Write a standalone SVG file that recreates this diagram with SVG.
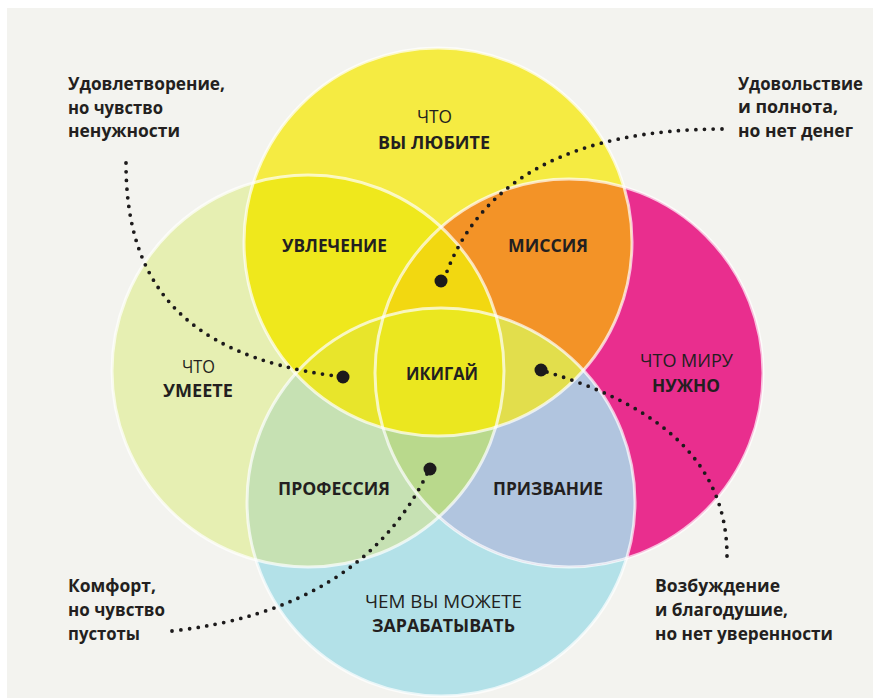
<svg xmlns="http://www.w3.org/2000/svg" width="873" height="698" viewBox="0 0 873 698">
<style>
.t{font-family:"Open Sans","Noto Sans","Liberation Sans",sans-serif;font-size:17.5px;fill:#231f20}
.b{font-weight:700}
.r{font-weight:400}
.note{font-family:"Open Sans","Noto Sans","Liberation Sans",sans-serif;font-size:17px;font-weight:700;fill:#231f20}
.edge{fill:none;stroke:#ffffff;stroke-opacity:0.7;stroke-width:3}
.dotline{fill:none;stroke:#1c1a1b;stroke-width:3.8;stroke-linecap:round;stroke-dasharray:0 8.7}
.dot{fill:#1c1a1b}
</style>
<defs>
<clipPath id="cY"><circle cx="438" cy="242" r="194"/></clipPath>
<clipPath id="cG"><circle cx="308" cy="371" r="196"/></clipPath>
<clipPath id="cM"><circle cx="569" cy="373" r="194"/></clipPath>
<clipPath id="cC"><circle cx="441" cy="502" r="194"/></clipPath>
</defs>
<rect x="0" y="0" width="873" height="698" fill="#ffffff"/>
<rect x="7" y="8" width="866" height="690" fill="#f3f3ef"/>

<g id="venn">
  <!-- single circles -->
  <g id="circle-good-at"><circle cx="308" cy="371" r="196" fill="#e6efb2"/></g>
  <g id="circle-paid-for"><circle cx="441" cy="502" r="194" fill="#b3e1e8"/></g>
  <g id="circle-world-needs"><circle cx="569" cy="373" r="194" fill="#e92e8e"/></g>
  <g id="circle-love"><circle cx="438" cy="242" r="194" fill="#f5eb42"/></g>
  <!-- pair intersections -->
  <g id="region-passion"><circle cx="438" cy="242" r="194" fill="#efe81c" clip-path="url(#cG)"/></g>
  <g id="region-mission"><circle cx="438" cy="242" r="194" fill="#f39327" clip-path="url(#cM)"/></g>
  <g id="region-profession"><circle cx="308" cy="371" r="196" fill="#c6e1b3" clip-path="url(#cC)"/></g>
  <g id="region-vocation"><circle cx="569" cy="373" r="194" fill="#b1c5df" clip-path="url(#cC)"/></g>
  <!-- triple intersections -->
  <g id="region-ygm" clip-path="url(#cG)"><circle cx="438" cy="242" r="194" fill="#f2d811" clip-path="url(#cM)"/></g>
  <g id="region-ygc" clip-path="url(#cG)"><circle cx="438" cy="242" r="194" fill="#e8e52b" clip-path="url(#cC)"/></g>
  <g id="region-ymc" clip-path="url(#cM)"><circle cx="438" cy="242" r="194" fill="#e2de4c" clip-path="url(#cC)"/></g>
  <g id="region-gmc" clip-path="url(#cM)"><circle cx="308" cy="371" r="196" fill="#b9d98c" clip-path="url(#cC)"/></g>
  <!-- all four -->
  <g id="region-ikigai" clip-path="url(#cG)"><g clip-path="url(#cM)"><circle cx="438" cy="242" r="194" fill="#ebe71f" clip-path="url(#cC)"/></g></g>
  <!-- soft white edges -->
  <circle class="edge" cx="308" cy="371" r="196"/>
  <circle class="edge" cx="441" cy="502" r="194"/>
  <circle class="edge" cx="569" cy="373" r="194"/>
  <circle class="edge" cx="438" cy="242" r="194"/>
</g>

<g id="labels">
  <g id="label-love">
    <text class="t r" x="417" y="123" textLength="35" lengthAdjust="spacingAndGlyphs">ЧТО</text>
    <text class="t b" x="378" y="149" textLength="112" lengthAdjust="spacingAndGlyphs">ВЫ ЛЮБИТЕ</text>
  </g>
  <g id="label-passion"><text class="t b" x="282" y="252" textLength="105" lengthAdjust="spacingAndGlyphs">УВЛЕЧЕНИЕ</text></g>
  <g id="label-mission"><text class="t b" x="508" y="252" textLength="80" lengthAdjust="spacingAndGlyphs">МИССИЯ</text></g>
  <g id="label-ikigai"><text class="t b" x="406" y="380" textLength="72" lengthAdjust="spacingAndGlyphs">ИКИГАЙ</text></g>
  <g id="label-good-at">
    <text class="t r" x="182" y="373" textLength="33" lengthAdjust="spacingAndGlyphs">ЧТО</text>
    <text class="t b" x="163" y="397" textLength="70" lengthAdjust="spacingAndGlyphs">УМЕЕТЕ</text>
  </g>
  <g id="label-world-needs">
    <text class="t r" x="640" y="367" textLength="93" lengthAdjust="spacingAndGlyphs">ЧТО МИРУ</text>
    <text class="t b" x="652" y="392" textLength="68" lengthAdjust="spacingAndGlyphs">НУЖНО</text>
  </g>
  <g id="label-profession"><text class="t b" x="278" y="495" textLength="112" lengthAdjust="spacingAndGlyphs">ПРОФЕССИЯ</text></g>
  <g id="label-vocation"><text class="t b" x="493" y="495" textLength="110" lengthAdjust="spacingAndGlyphs">ПРИЗВАНИЕ</text></g>
  <g id="label-paid-for">
    <text class="t r" x="365" y="608" textLength="157" lengthAdjust="spacingAndGlyphs">ЧЕМ ВЫ МОЖЕТЕ</text>
    <text class="t b" x="372" y="632" textLength="143" lengthAdjust="spacingAndGlyphs">ЗАРАБАТЫВАТЬ</text>
  </g>
</g>

<g id="notes">
  <g id="note-top-left">
    <text class="note" x="68" y="90" textLength="157" lengthAdjust="spacingAndGlyphs">Удовлетворение,</text>
    <text class="note" x="68" y="114" textLength="95" lengthAdjust="spacingAndGlyphs">но чувство</text>
    <text class="note" x="68" y="137" textLength="112" lengthAdjust="spacingAndGlyphs">ненужности</text>
  </g>
  <g id="note-top-right">
    <text class="note" x="738" y="90" textLength="125" lengthAdjust="spacingAndGlyphs">Удовольствие</text>
    <text class="note" x="738" y="113" textLength="100" lengthAdjust="spacingAndGlyphs">и полнота,</text>
    <text class="note" x="738" y="137" textLength="115" lengthAdjust="spacingAndGlyphs">но нет денег</text>
  </g>
  <g id="note-bottom-left">
    <text class="note" x="68" y="592" textLength="88" lengthAdjust="spacingAndGlyphs">Комфорт,</text>
    <text class="note" x="68" y="616" textLength="97" lengthAdjust="spacingAndGlyphs">но чувство</text>
    <text class="note" x="68" y="640" textLength="72" lengthAdjust="spacingAndGlyphs">пустоты</text>
  </g>
  <g id="note-bottom-right">
    <text class="note" x="655" y="592" textLength="125" lengthAdjust="spacingAndGlyphs">Возбуждение</text>
    <text class="note" x="655" y="616" textLength="133" lengthAdjust="spacingAndGlyphs">и благодушие,</text>
    <text class="note" x="655" y="640" textLength="178" lengthAdjust="spacingAndGlyphs">но нет уверенности</text>
  </g>
</g>

<g id="connectors">
  <path class="dotline" d="M126,163 C126,275 175,355 336,376"/>
  <path class="dotline" d="M722,129 Q500,130 446,274"/>
  <path class="dotline" d="M172,631 Q360,610 427,474"/>
  <path class="dotline" d="M547,372 C640,400 728,450 727,558"/>
  <circle class="dot" cx="441" cy="281" r="6.5"/>
  <circle class="dot" cx="343" cy="377" r="6.5"/>
  <circle class="dot" cx="541" cy="370" r="6.5"/>
  <circle class="dot" cx="430" cy="469" r="6.5"/>
</g>
</svg>
